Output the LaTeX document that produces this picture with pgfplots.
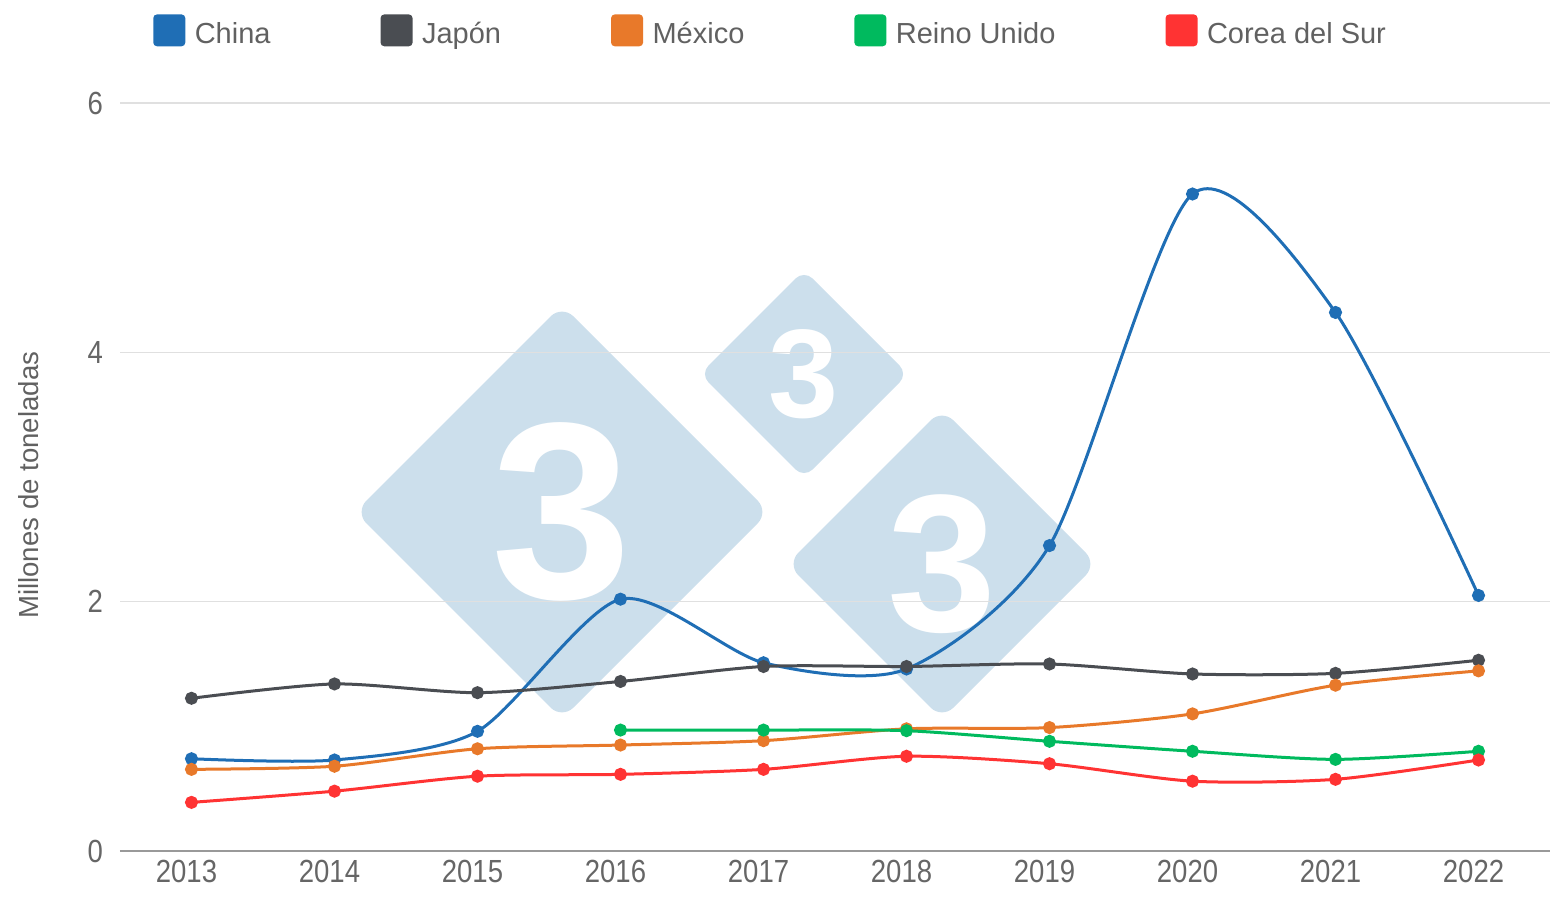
\documentclass[border=0pt]{standalone}
\usepackage{pgfplots}
\pgfplotsset{compat=1.18}
\usepackage{fontspec}
\setmainfont{Liberation Sans}
\newfontfamily\tickfont{Liberation Sans}[FakeStretch=0.86]

\definecolor{cChina}{HTML}{1F6EB5}
\definecolor{cJapon}{HTML}{4A4D52}
\definecolor{cMexico}{HTML}{E8792A}
\definecolor{cReino}{HTML}{00BA5E}
\definecolor{cCorea}{HTML}{FF3333}
\definecolor{wm}{HTML}{CCDFEC}
\definecolor{txt}{HTML}{666666}

\pgfplotsset{
  serie/.style={color=#1, line width=1.5pt, smooth, tension=0.45,
    mark=*, mark size=2.5pt, mark options={solid, fill=#1, draw=#1},
    legend image code/.code={\fill[#1, rounded corners=1.2pt] (0pt,-5.2pt) rectangle (14.5pt,9.2pt);
      \path[draw=none, fill=none] (17.5pt,0pt) circle (0pt);}},
}

\begin{document}
\begin{tikzpicture}
% 1 px of the reference = 0.5pt, axis box south-west corner at (0,0)
\path[use as bounding box] (-60pt,-29.5pt) rectangle (718pt,425.5pt);

% watermark
\fill[wm, rounded corners=8pt] (221pt,273pt) -- (324.5pt,169.5pt) -- (221pt,66pt) -- (117.5pt,169.5pt) -- cycle;
\fill[wm, rounded corners=6pt] (342pt,290.5pt) -- (394pt,238.5pt) -- (342pt,186.5pt) -- (290pt,238.5pt) -- cycle;
\fill[wm, rounded corners=8pt] (411pt,221pt) -- (488.5pt,143.5pt) -- (411pt,66pt) -- (333.5pt,143.5pt) -- cycle;
\node[white, inner sep=0pt] at (221pt,169.5pt) {\bfseries\fontsize{126}{126}\selectfont 3};
\node[white, inner sep=0pt] at (342pt,238.5pt) {\bfseries\fontsize{63}{63}\selectfont 3};
\node[white, inner sep=0pt] at (411pt,143.5pt) {\bfseries\fontsize{98}{98}\selectfont 3};

\begin{axis}[
    scale only axis,
    width=715pt,
    height=374pt,
    xmin=2012.5, xmax=2022.5,
    ymin=0, ymax=6,
    xtick={2013,2014,2015,2016,2017,2018,2019,2020,2021,2022},
    ytick={0,2,4,6},
    axis lines*=left,
    y axis line style={draw=none},
    x axis line style={color=black!40, line width=1pt},
    major tick length=0pt,
    ymajorgrids,
    grid style={color=black!12, line width=0.8pt},
    tick label style={color=txt, font=\tickfont\fontsize{16}{19}\selectfont},
    /pgf/number format/assume math mode=true,
    xticklabel style={/pgf/number format/1000 sep={}, yshift=-1pt, xshift=-2.5pt},
    yticklabel style={xshift=-5pt},
    clip=false,
    legend columns=5,
    legend cell align=left,
    legend style={
        at={(axis description cs:0.023,1.0936)},
        anchor=west,
        draw=none, fill=none, inner sep=0pt,
        font=\fontsize{14.5}{17}\selectfont,
        text=black!62,
        nodes={inner sep=2.5pt},
        /tikz/every even column/.append style={column sep=52.5pt}
    },
]

\node[rotate=90, text=black!62, font=\fontsize{13.8}{16}\selectfont]
  at (axis description cs:-0.064,0.489) {Millones de toneladas};

\addplot[serie=cChina] coordinates {
  (2013,0.74) (2014,0.73) (2015,0.96) (2016,2.02) (2017,1.51)
  (2018,1.46) (2019,2.45) (2020,5.27) (2021,4.32) (2022,2.05)
};
\addlegendentry{China}
\addplot[serie=cJapon] coordinates {
  (2013,1.225) (2014,1.34) (2015,1.27) (2016,1.36) (2017,1.48)
  (2018,1.48) (2019,1.50) (2020,1.42) (2021,1.425) (2022,1.53)
};
\addlegendentry{Japón}
\addplot[serie=cMexico] coordinates {
  (2013,0.655) (2014,0.68) (2015,0.82) (2016,0.85) (2017,0.885)
  (2018,0.98) (2019,0.99) (2020,1.10) (2021,1.33) (2022,1.445)
};
\addlegendentry{México}
\addplot[serie=cReino] coordinates {
  (2016,0.97) (2017,0.97) (2018,0.965) (2019,0.88) (2020,0.80)
  (2021,0.735) (2022,0.80)
};
\addlegendentry{Reino Unido}
\addplot[serie=cCorea] coordinates {
  (2013,0.39) (2014,0.48) (2015,0.60) (2016,0.615) (2017,0.655)
  (2018,0.76) (2019,0.70) (2020,0.56) (2021,0.575) (2022,0.73)
};
\addlegendentry{Corea del Sur}
\end{axis}
\end{tikzpicture}
\end{document}
